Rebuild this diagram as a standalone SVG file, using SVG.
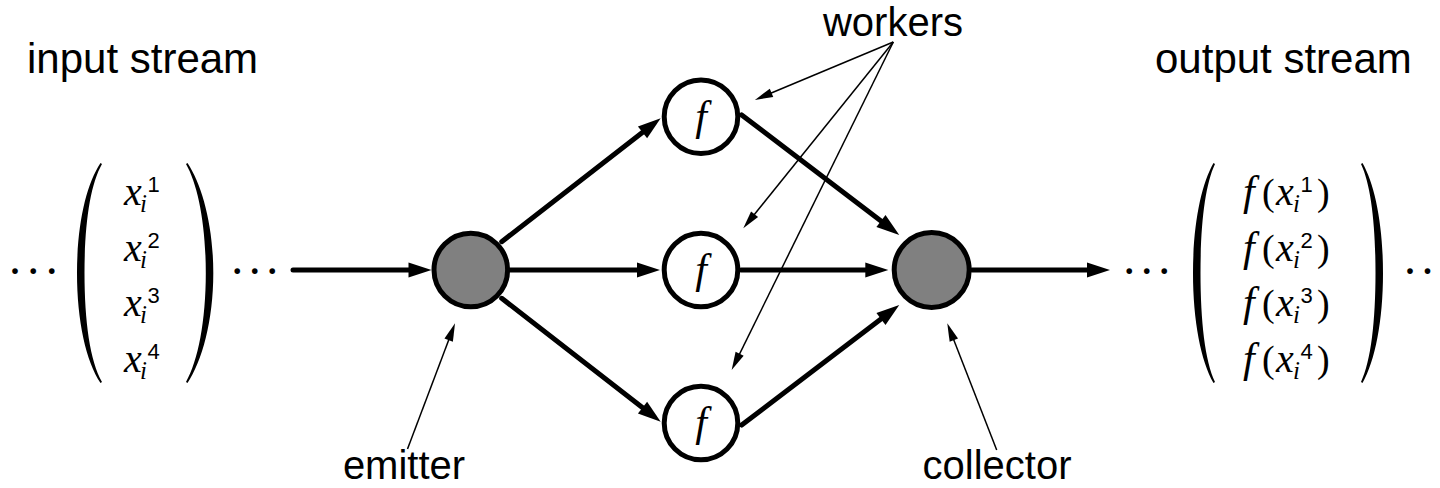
<svg xmlns="http://www.w3.org/2000/svg" width="1440" height="488" viewBox="0 0 1440 488">
<style>
.lbl{font-family:"Liberation Sans",Arial,sans-serif;font-size:42px;fill:#000}
.lbs{font-family:"Liberation Sans",Arial,sans-serif;font-size:40px;fill:#000;text-anchor:middle}
.mi{font-family:"Liberation Serif","Times New Roman",serif;font-style:italic;font-size:40px;fill:#000}
.fi{font-family:"Liberation Serif","Times New Roman",serif;font-style:italic;font-size:42px;fill:#000}
.mr{font-family:"Liberation Serif","Times New Roman",serif;font-style:normal;font-size:38px}
.sup{font-family:"Liberation Sans",Arial,sans-serif;font-style:normal;font-size:22px}
.sub{font-family:"Liberation Serif","Times New Roman",serif;font-style:italic;font-size:25px}
.xi{font-size:40px}
.dots{font-family:"Liberation Serif","Times New Roman",serif;font-size:48px;fill:#000;text-anchor:middle}
.thick{stroke:#000;stroke-width:5;fill:none;stroke-linecap:round;marker-end:url(#ah)}
.thin{stroke:#000;stroke-width:1.5;fill:none;marker-end:url(#ahs)}
.hub{fill:#808080;stroke:#000;stroke-width:5}
.wk{fill:#fff;stroke:#000;stroke-width:5}
.paren{fill:#000}
</style>
<defs>
<marker id="ah" markerUnits="userSpaceOnUse" markerWidth="24" markerHeight="16" refX="12" refY="7.5" orient="auto" overflow="visible">
<path d="M0,0 L23,7.5 L0,15 Z" fill="#000"/>
</marker>
<marker id="ahs" markerUnits="userSpaceOnUse" markerWidth="19" markerHeight="10" refX="10" refY="4.5" orient="auto" overflow="visible">
<path d="M0,0 L18,4.5 L0,9 Z" fill="#000"/>
</marker>
</defs>

<g id="labels">
<text class="lbl" x="27" y="73">input stream</text>
<text class="lbl" x="1155" y="73">output stream</text>
<text class="lbs" x="893" y="36">workers</text>
<text class="lbs" x="404" y="479">emitter</text>
<text class="lbs" x="997" y="479">collector</text>
</g>

<g id="input-stream">
<path class="paren" d="M 100.5 163 C 86 185, 77 225, 77 273 C 77 321, 86 361, 100.5 383 L 102 382 C 90 361, 84.5 321, 84.5 273 C 84.5 225, 90 185, 102 164 Z"/>
<path class="paren" d="M 187.5 163 C 202 185, 213.3 225, 213.3 273 C 213.3 321, 202 361, 187.5 383 L 186 382 C 198 361, 205.8 321, 205.8 273 C 205.8 225, 198 185, 186 164 Z"/>
<text class="dots" x="15 33.3 51.7" y="287">···</text>
<text class="dots" x="237.3 254.7 272.3" y="287">···</text>
<text class="mi" x="124" y="205">x<tspan class="sup" x="147.5" y="192">1</tspan><tspan class="sub" x="140" y="212">i</tspan></text>
<text class="mi" x="124" y="260.5">x<tspan class="sup" x="147.5" y="247.5">2</tspan><tspan class="sub" x="140" y="267.5">i</tspan></text>
<text class="mi" x="124" y="316">x<tspan class="sup" x="147.5" y="303">3</tspan><tspan class="sub" x="140" y="323">i</tspan></text>
<text class="mi" x="124" y="371.5">x<tspan class="sup" x="147.5" y="358.5">4</tspan><tspan class="sub" x="140" y="378.5">i</tspan></text>
</g>

<g id="output-stream">
<path class="paren" d="M 1213.5 163 C 1201 185, 1193 225, 1193 273 C 1193 321, 1201 361, 1213.5 383 L 1215 382 C 1205 361, 1200.5 321, 1200.5 273 C 1200.5 225, 1205 185, 1215 164 Z"/>
<path class="paren" d="M 1362.5 163 C 1375 185, 1383 225, 1383 273 C 1383 321, 1375 361, 1362.5 383 L 1361 382 C 1371 361, 1375.5 321, 1375.5 273 C 1375.5 225, 1371 185, 1361 164 Z"/>
<text class="dots" x="1129.3 1146.7 1164.3" y="287">···</text>
<text class="dots" x="1410 1427.5" y="287">··</text>
<text class="fi" x="1243" y="205">f<tspan class="mr" x="1262">(</tspan><tspan class="xi" x="1276">x</tspan><tspan class="sup" x="1300.5" y="192">1</tspan><tspan class="sub" x="1293" y="212">i</tspan><tspan class="mr" x="1317" y="205">)</tspan></text>
<text class="fi" x="1243" y="260.5">f<tspan class="mr" x="1262">(</tspan><tspan class="xi" x="1276">x</tspan><tspan class="sup" x="1300.5" y="247.5">2</tspan><tspan class="sub" x="1293" y="267.5">i</tspan><tspan class="mr" x="1317" y="260.5">)</tspan></text>
<text class="fi" x="1243" y="316">f<tspan class="mr" x="1262">(</tspan><tspan class="xi" x="1276">x</tspan><tspan class="sup" x="1300.5" y="303">3</tspan><tspan class="sub" x="1293" y="323">i</tspan><tspan class="mr" x="1317" y="316">)</tspan></text>
<text class="fi" x="1243" y="371.5">f<tspan class="mr" x="1262">(</tspan><tspan class="xi" x="1276">x</tspan><tspan class="sup" x="1300.5" y="358.5">4</tspan><tspan class="sub" x="1293" y="378.5">i</tspan><tspan class="mr" x="1317" y="371.5">)</tspan></text>
</g>

<g id="connectors">
<line class="thick" x1="293" y1="270" x2="420.5" y2="270"/>
<line class="thick" x1="501.7" y1="241.7" x2="652" y2="125"/>
<line class="thick" x1="510" y1="270" x2="649" y2="270"/>
<line class="thick" x1="501.7" y1="298.3" x2="652" y2="415"/>
<line class="thick" x1="741.7" y1="115" x2="890.5" y2="228.3"/>
<line class="thick" x1="741" y1="270" x2="877.3" y2="270"/>
<line class="thick" x1="741.7" y1="425" x2="890.5" y2="311.7"/>
<line class="thick" x1="972" y1="270" x2="1099" y2="270"/>
<line class="thin" x1="893.3" y1="42" x2="762.3" y2="96.8"/>
<line class="thin" x1="893.3" y1="42" x2="748.3" y2="222"/>
<line class="thin" x1="893.3" y1="42" x2="735.2" y2="362.8"/>
<line class="thin" x1="407.5" y1="449" x2="452.2" y2="330.8"/>
<line class="thin" x1="996.7" y1="450" x2="950.2" y2="330.8"/>
</g>

<g id="emitter"><circle class="hub" cx="470.8" cy="270" r="36.8"/></g>
<g id="collector"><circle class="hub" cx="931.7" cy="270" r="37.5"/></g>
<g id="worker1"><circle class="wk" cx="701" cy="116.7" r="36.8"/><text class="fi" x="701" y="130" text-anchor="middle">f</text></g>
<g id="worker2"><circle class="wk" cx="701" cy="270" r="36.8"/><text class="fi" x="701" y="283.3" text-anchor="middle">f</text></g>
<g id="worker3"><circle class="wk" cx="701" cy="423" r="36.8"/><text class="fi" x="701" y="436.3" text-anchor="middle">f</text></g>
</svg>
